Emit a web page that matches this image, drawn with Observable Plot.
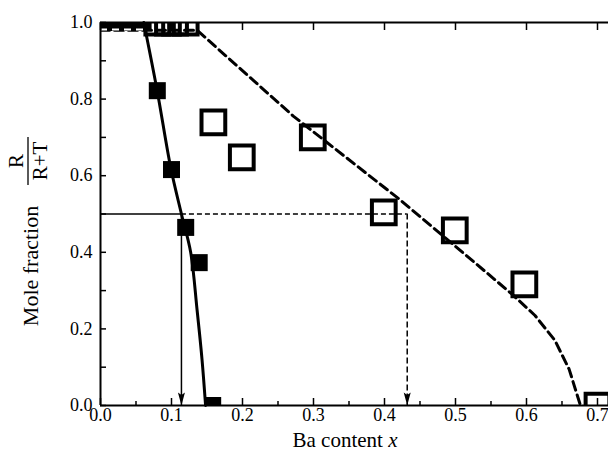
<!DOCTYPE html>
<html><head><meta charset="utf-8">
<script src="https://cdn.jsdelivr.net/npm/d3@7"></script>
<script src="https://cdn.jsdelivr.net/npm/@observablehq/plot@0.6"></script>
<style>body{margin:0;background:#fff} #chart{width:608px;height:453px} svg, svg text{font-family:"Liberation Serif", serif !important}</style>
</head><body><div id="chart"></div>
<script>
// ---- data ----
const xLabelTicks = [0, 0.1, 0.2, 0.3, 0.4, 0.5, 0.6, 0.7];
const xMinorTicks = [0.05, 0.15, 0.25, 0.35, 0.45, 0.55, 0.65];
const yLabelTicks = [0, 0.2, 0.4, 0.6, 0.8, 1.0];
const yAllTicks = [0, 0.1, 0.2, 0.3, 0.4, 0.5, 0.6, 0.7, 0.8, 0.9, 1.0];

// filled squares (R phase)
const filledX = [0, 0.02, 0.04, 0.06, 0.080, 0.100, 0.120, 0.139, 0.158];
const filledY = [1, 1, 1, 1, 0.822, 0.616, 0.465, 0.373, 0];
// open squares
const openX = [0.08, 0.095, 0.105, 0.12, 0.159, 0.199, 0.299, 0.399, 0.499, 0.597, 0.70];
const openY = [1, 1, 1, 1, 0.739, 0.648, 0.700, 0.504, 0.457, 0.316, 0];

// solid fit curve
const solidX = [0.061, 0.080, 0.099, 0.114, 0.127, 0.136, 0.143, 0.148];
const solidY = [1.0, 0.82, 0.62, 0.50, 0.40, 0.25, 0.12, 0.0];
// dashed fit curve
const dashX = [0, 0.136, 0.272, 0.42, 0.497, 0.545, 0.58, 0.612, 0.640, 0.660, 0.676];
const dashY = [0.98, 0.98, 0.755, 0.54, 0.42, 0.345, 0.29, 0.235, 0.17, 0.095, 0.0];

// guide lines at mole fraction 0.5
const guideLevel = 0.5;
const guideSolidX = 0.114;
const guideDashX = 0.432;

const xMax = 0.7155;

const filled = filledX.map((x, i) => ({x, y: filledY[i]}));
const open = openX.map((x, i) => ({x, y: openY[i]}));
const solid = solidX.map((x, i) => ({x, y: solidY[i]}));
const dashed = dashX.map((x, i) => ({x, y: dashY[i]}));

const arrowHead = {
  draw(ctx) {
    const w = 3.5, h = 13;
    ctx.moveTo(0, 0);
    ctx.lineTo(-w, -h);
    ctx.lineTo(0, -h * 0.8);
    ctx.lineTo(w, -h);
    ctx.closePath();
  }
};

const blank = () => "";
const FONT = "Liberation Serif";

const svg = Plot.plot({
  width: 608,
  height: 453,
  marginLeft: 100,
  marginRight: 0,
  marginTop: 22,
  marginBottom: 48,
  style: {fontFamily: FONT, fontSize: "18px", color: "black", background: "white"},
  x: {domain: [0, xMax], label: null},
  y: {domain: [0, 1], label: null},
  marks: [
    // guide lines
    Plot.ruleY([guideLevel], {x1: 0, x2: guideSolidX, stroke: "black", strokeWidth: 1.5}),
    Plot.ruleY([guideLevel], {x1: guideSolidX, x2: guideDashX, stroke: "black", strokeWidth: 1.5, strokeDasharray: "5,3"}),
    Plot.ruleX([guideSolidX], {y1: guideLevel, y2: 0, stroke: "black", strokeWidth: 1.5}),
    Plot.ruleX([guideDashX], {y1: guideLevel, y2: 0, stroke: "black", strokeWidth: 1.5, strokeDasharray: "6,3"}),
    Plot.dot([guideSolidX, guideDashX], {x: d => d, y: 0, symbol: arrowHead, fill: "black", r: 5}),
    // fit curves
    Plot.line(solid, {x: "x", y: "y", curve: "catmull-rom", stroke: "black", strokeWidth: 3}),
    Plot.line(dashed, {x: "x", y: "y", curve: "linear", stroke: "black", strokeWidth: 3, strokeDasharray: "9,5", clip: true}),
    // data squares
    Plot.dot(filled, {x: "x", y: "y", symbol: "square", r: 9.6, fill: "black", clip: true}),
    Plot.dot(open, {x: "x", y: "y", symbol: "square", r: 13.4, fill: "none", stroke: "black", strokeWidth: 4, clip: true}),
    Plot.ruleY([0.982], {x1: 0, x2: 0.066, stroke: "white", strokeWidth: 2, strokeDasharray: "7,5"}),
    // frame
    Plot.ruleX([0], {stroke: "black", strokeWidth: 2}),
    Plot.ruleY([0, 1], {stroke: "black", strokeWidth: 2}),
    // axes
    Plot.axisY(yLabelTicks, {anchor: "left", tickSize: 0, tickPadding: 8, tickFormat: d3.format(".1f"), label: null, fontSize: 18, fontFamily: FONT}),
    Plot.axisY(yAllTicks, {anchor: "left", tickSize: -6, tickFormat: blank, label: null, strokeWidth: 1.5}),
    Plot.axisX(xLabelTicks, {anchor: "bottom", tickSize: 0, tickPadding: 3, tickFormat: d3.format(".1f"), label: null, fontSize: 18, fontFamily: FONT}),
    Plot.axisX(xLabelTicks, {anchor: "bottom", tickSize: -7, tickFormat: blank, label: null, strokeWidth: 1.5}),
    Plot.axisX(xMinorTicks, {anchor: "bottom", tickSize: -4, tickFormat: blank, label: null, strokeWidth: 1.5}),
    Plot.axisX(xLabelTicks, {anchor: "top", tickSize: -7, tickFormat: blank, label: null, strokeWidth: 1.5})
  ]
});

const s = d3.select(svg).attr("font-family", FONT);
// x title
const xt = s.append("text")
  .attr("x", 345).attr("y", 447)
  .attr("text-anchor", "middle")
  .attr("font-family", FONT)
  .attr("font-size", 21)
  .attr("fill", "black");
xt.append("tspan").text("Ba content ");
xt.append("tspan").attr("font-style", "italic").text("x");
// y title
s.append("text")
  .attr("transform", "translate(38,266) rotate(-90)")
  .attr("text-anchor", "middle")
  .attr("font-family", FONT)
  .attr("font-size", 22)
  .attr("fill", "black")
  .text("Mole fraction");
s.append("text")
  .attr("transform", "translate(23,161) rotate(-90)")
  .attr("text-anchor", "middle")
  .attr("font-family", FONT)
  .attr("font-size", 21)
  .attr("fill", "black")
  .text("R");
s.append("line")
  .attr("x1", 28).attr("x2", 28).attr("y1", 137).attr("y2", 185)
  .attr("stroke", "black").attr("stroke-width", 1.3);
s.append("text")
  .attr("transform", "translate(47,161) rotate(-90)")
  .attr("text-anchor", "middle")
  .attr("font-family", FONT)
  .attr("font-size", 21)
  .attr("fill", "black")
  .text("R+T");

document.getElementById("chart").appendChild(svg);
</script>
</body></html>
